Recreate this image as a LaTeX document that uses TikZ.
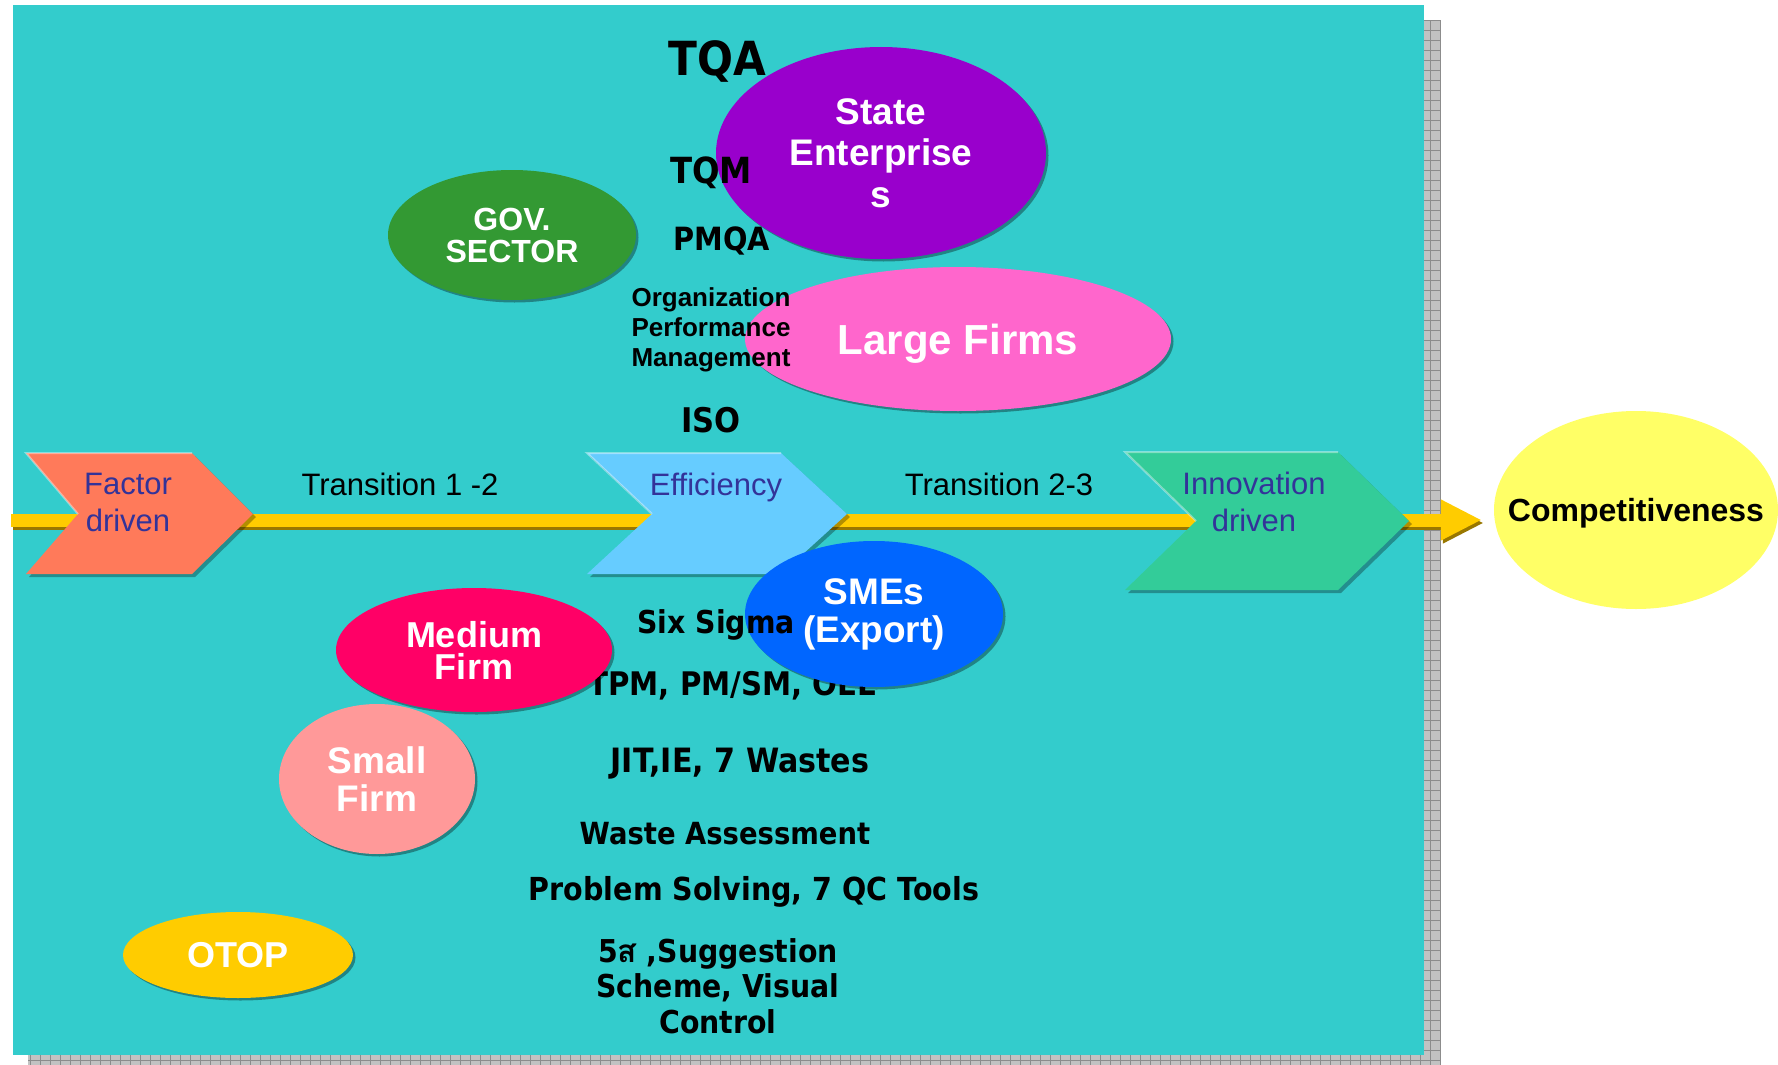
\documentclass[tikz,border=0pt]{standalone}
\usepackage{fontspec}
\setmainfont{Liberation Sans}
\newfontfamily\tahomafont[FakeStretch=0.9]{DejaVu Sans}
\newfontfamily\thaifont[Script=Thai]{Loma}
\usetikzlibrary{arrows.meta, shapes.geometric, shadows}
\definecolor{bgteal}{RGB}{51,204,204}
\definecolor{shadegray}{RGB}{194,194,194}
\definecolor{gridgray}{RGB}{140,140,140}
\definecolor{baryellow}{RGB}{255,204,0}
\definecolor{barshade}{RGB}{153,119,0}
\definecolor{stagetext}{RGB}{51,51,153}
\definecolor{factorfill}{RGB}{255,122,90}
\definecolor{efficfill}{RGB}{102,204,255}
\definecolor{innovfill}{RGB}{51,204,153}
\definecolor{statefill}{RGB}{153,0,204}
\definecolor{govfill}{RGB}{51,153,51}
\definecolor{largefill}{RGB}{255,102,204}
\definecolor{mediumfill}{RGB}{255,0,102}
\definecolor{smefill}{RGB}{0,102,255}
\definecolor{smallfill}{RGB}{255,153,153}
\definecolor{otopfill}{RGB}{255,204,0}
\definecolor{compfill}{RGB}{255,255,102}

\begin{document}
\begin{tikzpicture}[x=1pt, y=-1pt,
    bubble/.style 2 args={ellipse, inner sep=0pt, text=white, align=center,
        font=\bfseries\fontsize{#1}{#2}\selectfont,
        drop shadow={shadow xshift=2.5pt, shadow yshift=-2.5pt, fill=black, opacity=0.35}},
    stagebox/.style={fill=#1, preaction={fill=black, fill opacity=0.3,
        transform canvas={shift={(3pt,-3pt)}}}},
    stageedge/.style={white, opacity=0.4, line width=2pt},
    stagelabel/.style={text=stagetext, align=center, font=\fontsize{31}{37}\selectfont},
    gaplabel/.style={anchor=base, font=\fontsize{31}{37}\selectfont},
    tool/.style={anchor=base, font=\tahomafont\bfseries\fontsize{#1}{36}\selectfont},
    bar/.style={draw=#1, line width=13pt, -{Triangle[length=41pt,width=38pt]}}]
    \useasboundingbox (0,0) rectangle (1778,1065);

    % Slide panel with its gridded shadow
    \fill[shadegray] (28,20) rectangle (1440,1065);
    \draw[gridgray, line width=0.8pt, step=10pt] (28,20) grid (1440,1065);
    \fill[bgteal] (13,5) rectangle (1424,1055);

    % Goal
    \node[ellipse, fill=compfill, inner sep=0pt, inner xsep=-60pt, text depth=0pt, minimum width=284pt, minimum height=198pt,
        font=\bfseries\fontsize{32}{36}\selectfont] (comp) at (1636,510) {Competitiveness};

    % Main arrow
    \coordinate (barstart) at (11,520);
    \coordinate (tip) at ([xshift=-12pt]comp.west);
    \draw[bar=barshade, transform canvas={shift={(2pt,-3pt)}}] (barstart) -- (tip |- barstart);
    \draw[bar=baryellow] (barstart) -- (tip |- barstart);

    % Stages
    \fill[stagebox=factorfill] (26,453) -- (192,453) -- (253,514) -- (192,574) -- (26,574) -- (78,514) -- cycle;
    \draw[stageedge] (78,514) -- (26,453) -- (192,453);
    \fill[stagebox=efficfill] (587,453) -- (781,453) -- (847,514) -- (781,574) -- (587,574) -- (652,514) -- cycle;
    \draw[stageedge] (652,514) -- (587,453) -- (781,453);
    \fill[stagebox=innovfill] (1125,452) -- (1338,452) -- (1409,521) -- (1338,590) -- (1125,590) -- (1196,521) -- cycle;
    \draw[stageedge] (1196,521) -- (1125,452) -- (1338,452);

    \node[stagelabel] (factor) at (128,502) {Factor\\driven};
    \node[gaplabel, text=stagetext] (effic) at (716,495) {Efficiency};
    \node[stagelabel] (innov) at (1254,502) {Innovation\\driven};
    \node[gaplabel] (trans12) at (400,495) {Transition 1 -2};
    \node[gaplabel] (trans23) at (999,495) {Transition 2-3};

    % Text hidden behind the firms
    \node[tool=32.5] (tpm) at (733,695) {TPM, PM/SM, OEE};

    % Organisations
    \node[bubble={37}{41.5}, fill=statefill, minimum width=330pt, minimum height=212pt] (state) at (881,153) {State\\Enterprise\\s};
    \node[bubble={32}{32}, fill=govfill, minimum width=248pt, minimum height=130pt] (gov) at (512,235) {GOV.\\SECTOR};
    \node[bubble={42}{48}, fill=largefill, text depth=0pt, minimum width=426pt, minimum height=144pt] (large) at (958,339) {Large Firms};
    \node[bubble={36}{32}, fill=mediumfill, minimum width=276pt, minimum height=124pt] (medium) at (474,650) {Medium\\Firm};
    \node[bubble={37}{38}, fill=smefill, minimum width=258pt, minimum height=146pt] (smes) at (874,614) {SMEs\\(Export)};
    \node[bubble={37}{38}, fill=smallfill, minimum width=196pt, minimum height=150pt] (small) at (377,779) {Small\\Firm};
    \node[bubble={36}{40}, fill=otopfill, minimum width=230pt, minimum height=86pt] (otop) at (238,955) {OTOP};

    % Tools
    \node[tool=47] (tqa) at (717,75) {TQA};
    \node[tool=36] (tqm) at (711,183) {TQM};
    \node[tool=32] (pmqa) at (722,250) {PMQA};
    \node[align=center, font=\bfseries\fontsize{26}{30}\selectfont] (opm) at (711,330) {Organization\\Performance\\Management};
    \node[tool=34] (iso) at (711,432) {ISO};
    \node[tool=31.5] (sixsigma) at (716,633) {Six Sigma};
    \node[tool=33.5] (jit) at (740,772) {JIT,IE, 7 Wastes};
    \node[tool=30.5] (waste) at (725,844) {Waste Assessment};
    \node[tool=31.7] (qc) at (754,900) {Problem Solving, 7 QC Tools};
    \node[align=center, font=\tahomafont\bfseries\fontsize{31.5}{35.5}\selectfont] (fives) at (718,986)
        {5{\thaifont\bfseries ส} ,Suggestion\\Scheme, Visual\\Control};
\end{tikzpicture}
\end{document}
